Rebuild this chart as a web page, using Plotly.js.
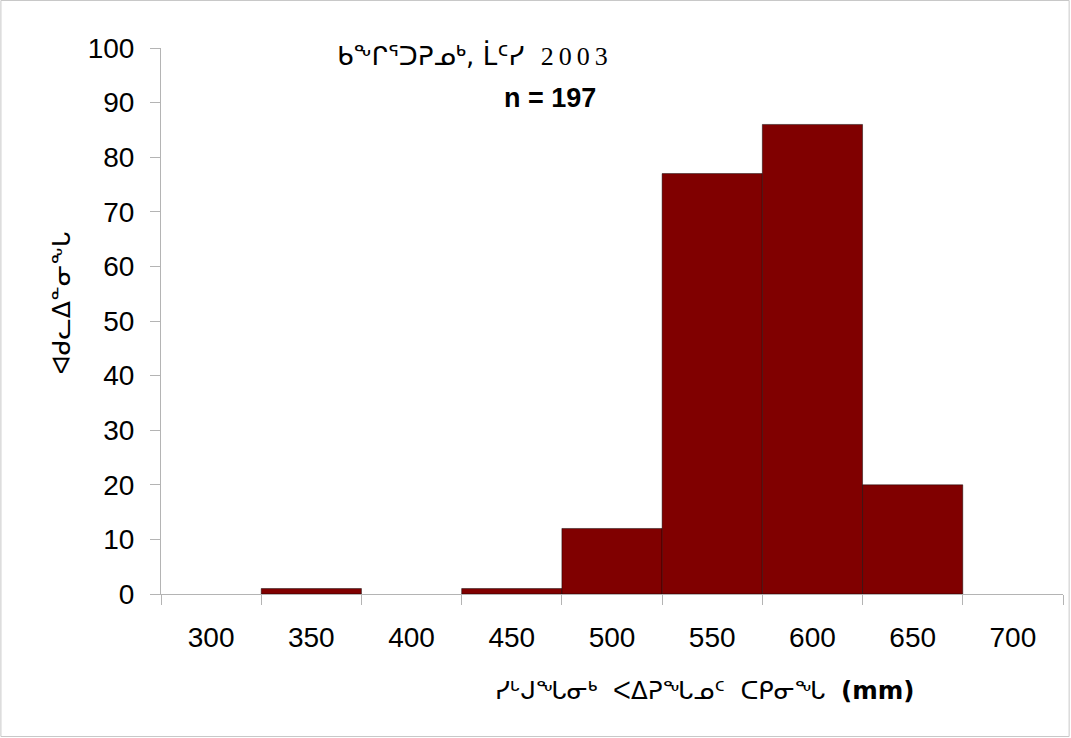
<!DOCTYPE html>
<html>
<head>
<meta charset="utf-8">
<script src="https://cdn.plot.ly/plotly-3.0.1.min.js"></script>
<style>html,body{margin:0;padding:0;background:#fff;}</style>
</head>
<body>
<div id="chart" style="width:1071px;height:738px;"></div>
<script>
const categories = ['300','350','400','450','500','550','600','650','700'];
const counts = [0, 1, 0, 1, 12, 77, 86, 20, 0];
const yTickVals = [0,10,20,30,40,50,60,70,80,90,100];
const titleText = 'ᑲᖕᒋᕐᑐᕈᓄᒃ, ᒫᑦᓯ\u00a0\u00a0<span style="font-family:\'Liberation Serif\';letter-spacing:5px">2003</span>';
const sampleText = 'n = 197';
const xTitleText = 'ᓯᒡᒍᖓᓂᒃ\u00a0\u00a0ᐸᐃᕈᖓᓄᑦ\u00a0\u00a0ᑕᑭᓂᖓ\u00a0\u00a0<b>(mm)</b>';
const yTitleText = 'ᐊᑯᓚᐃᓐᓂᖕᒐ';

const SANS = 'Liberation Sans, Arial, sans-serif';

const trace = {
  type: 'bar',
  x: categories,
  y: counts,
  marker: {
    color: '#800000',
    line: {color: 'rgba(0,0,0,0.45)', width: counts.map(c => (c > 0 ? 1 : 0))}
  },
  hoverinfo: 'x+y'
};

const axisColor = '#b4b4b4';
const layout = {
  width: 1071, height: 738,
  margin: {l: 160.7, r: 7.6, t: 48, b: 144, pad: 0},
  paper_bgcolor: '#ffffff', plot_bgcolor: '#ffffff',
  bargap: 0,
  showlegend: false,
  font: {family: SANS, size: 28, color: '#000'},
  xaxis: {
    type: 'category',
    showline: true, linecolor: axisColor, linewidth: 1,
    ticks: 'outside', ticklen: 10, tickcolor: axisColor, tickwidth: 1,
    tickson: 'boundaries',
    showgrid: false, zeroline: false,
    tickfont: {family: SANS, size: 28, color: '#000'},
    ticklabelstandoff: 18,
    fixedrange: true
  },
  yaxis: {
    range: [0, 100],
    tickvals: yTickVals,
    showline: true, linecolor: axisColor, linewidth: 1,
    ticks: 'outside', ticklen: 10, tickcolor: axisColor, tickwidth: 1,
    showgrid: false, zeroline: false,
    tickfont: {family: SANS, size: 28, color: '#000'},
    ticklabelstandoff: 10,
    fixedrange: true
  },
  annotations: [
    {xref: 'paper', yref: 'paper', x: 0.1931, y: 0.987, text: titleText, showarrow: false,
     font: {family: 'DejaVu Sans, sans-serif', size: 26, color: '#000'}, xanchor: 'left', yanchor: 'middle'},
    {xref: 'paper', yref: 'paper', x: 0.431, y: 0.908, text: '<b>' + sampleText + '</b>', showarrow: false,
     font: {family: SANS, size: 27, color: '#000'}, xanchor: 'center', yanchor: 'middle'},
    {xref: 'paper', yref: 'paper', x: 0.602, y: -0.176, text: xTitleText, showarrow: false,
     font: {family: 'DejaVu Sans, sans-serif', size: 24.5, color: '#000'}, xanchor: 'center', yanchor: 'middle'},
    {xref: 'paper', yref: 'paper', x: -0.1093, y: 0.533, text: yTitleText, showarrow: false, textangle: -90,
     font: {family: 'DejaVu Sans, sans-serif', size: 25, color: '#000'}, xanchor: 'center', yanchor: 'middle'}
  ],
  shapes: [
    {type: 'rect', xref: 'paper', yref: 'paper', x0: -0.1775, x1: 1.0068, y0: -0.261, y1: 1.087,
     line: {color: '#c8c8c8', width: 1}, fillcolor: 'rgba(0,0,0,0)', layer: 'below'}
  ]
};

Plotly.newPlot('chart', [trace], layout, {displayModeBar: false, staticPlot: true});
</script>
</body>
</html>
